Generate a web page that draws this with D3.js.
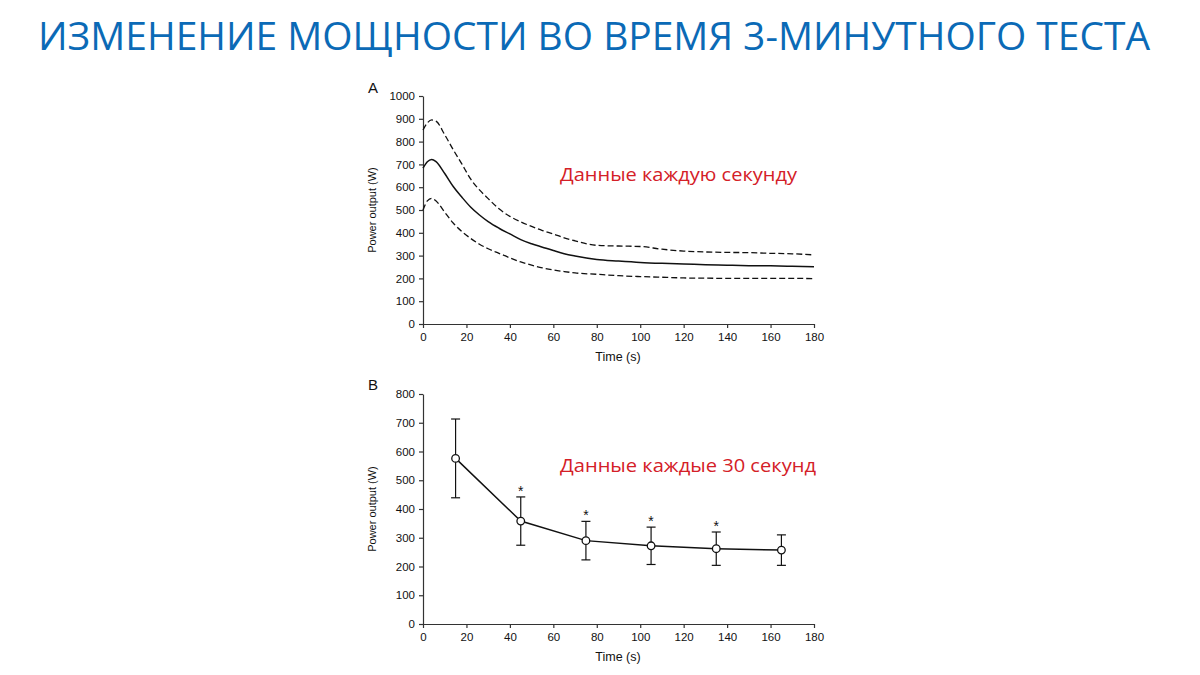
<!DOCTYPE html>
<html><head><meta charset="utf-8">
<script src="https://cdn.jsdelivr.net/npm/d3@7"></script>
<style>body{margin:0;background:#fff;} svg{display:block;}</style>
</head><body>
<svg id="c" width="1200" height="675"></svg>
<script>
// Panel A data (per-second, read at key times)
const timeA  = [0, 2, 4, 6, 10, 14, 18, 22, 26, 30, 35, 40, 45, 50, 55, 60, 65, 70, 80, 90, 100, 110, 120, 130, 140, 150, 160, 170, 180];
const meanA  = [684, 712, 722, 712, 660, 602, 555, 512, 478, 449, 420, 395, 370, 352, 337, 322, 308, 298, 283, 276, 270, 266, 263, 260, 258, 256, 255, 253, 251];
const upperA = [851, 882, 895, 890, 830, 763, 700, 635, 588, 550, 505, 472, 448, 428, 410, 395, 378, 365, 345, 342, 340, 328, 320, 316, 314, 313, 310, 308, 303];
const lowerA = [500, 540, 551, 540, 490, 442, 405, 375, 350, 330, 310, 290, 272, 258, 246, 237, 230, 224, 218, 212, 208, 205, 202, 201, 200, 200, 200, 200, 199];
// Panel B data (30-s means ± SD)
const timeB = [15, 45, 75, 105, 135, 165];
const meanB = [576, 358, 290, 272, 262, 257];
const sdB   = [137, 84, 67, 65, 58, 53];
const sigB  = [false, true, true, true, true, false];
const xTicks = [0, 20, 40, 60, 80, 100, 120, 140, 160, 180];

const svg = d3.select("#c");
const axisFont = "Liberation Sans, Arial, sans-serif";

svg.append("text").attr("x", 594).attr("y", 50).attr("text-anchor", "middle")
  .attr("font-family", "Open Sans, Noto Sans, sans-serif").attr("font-size", 38)
  .attr("fill", "#0b6ab6").attr("textLength", 1112).attr("lengthAdjust", "spacingAndGlyphs")
  .text("ИЗМЕНЕНИЕ МОЩНОСТИ ВО ВРЕМЯ 3-МИНУТНОГО ТЕСТА");

function panel(cfg) {
  const x = d3.scaleLinear().domain([0, 180]).range([423, 814]);
  const y = d3.scaleLinear().domain([0, cfg.ymax]).range([cfg.y0, cfg.y1]);
  const g = svg.append("g");
  const xa = g.append("g").attr("transform", `translate(0,${cfg.y0})`)
    .call(d3.axisBottom(x).tickValues(xTicks).tickFormat(d3.format("d")).tickSize(4).tickSizeOuter(0));
  const ya = g.append("g").attr("transform", `translate(423,0)`)
    .call(d3.axisLeft(y).tickValues(d3.range(0, cfg.ymax + 1, 100)).tickFormat(d3.format("d")).tickSize(4).tickSizeOuter(0));
  [xa, ya].forEach(a => {
    a.selectAll("path,line").attr("stroke", "#333").attr("stroke-width", 1.2);
    a.selectAll("text").attr("font-family", axisFont).attr("font-size", 11.5).attr("fill", "#111");
  });
  xa.selectAll("text").attr("dy", "0.85em");
  ya.selectAll("text").attr("dx", "-1px");
  g.append("text").attr("x", 618).attr("y", cfg.y0 + 37).attr("text-anchor", "middle")
    .attr("font-family", axisFont).attr("font-size", 12.5).attr("fill", "#111").text("Time (s)");
  g.append("text").attr("transform", `translate(376,${(cfg.y0 + cfg.y1) / 2}) rotate(-90)`)
    .attr("text-anchor", "middle").attr("font-family", axisFont).attr("font-size", 11)
    .attr("fill", "#111").text("Power output (W)");
  g.append("text").attr("x", 368).attr("y", cfg.labelY).attr("font-family", axisFont)
    .attr("font-size", 15).attr("fill", "#111").text(cfg.label);
  return {x, y, g};
}

// Panel A
const A = panel({ymax: 1000, y0: 324, y1: 96, label: "A", labelY: 93});
const lineA = (vals) => d3.line().x((d, i) => A.x(timeA[i])).y(d => A.y(d)).curve(d3.curveMonotoneX)(vals);
A.g.append("path").attr("d", lineA(upperA)).attr("fill", "none").attr("stroke", "#111")
  .attr("stroke-width", 1.3).attr("stroke-dasharray", "6,3");
A.g.append("path").attr("d", lineA(lowerA)).attr("fill", "none").attr("stroke", "#111")
  .attr("stroke-width", 1.3).attr("stroke-dasharray", "6,3");
A.g.append("path").attr("d", lineA(meanA)).attr("fill", "none").attr("stroke", "#111")
  .attr("stroke-width", 1.5);
svg.append("text").attr("x", 560).attr("y", 181).attr("font-family", "Open Sans, Noto Sans, sans-serif")
  .attr("font-size", 19).attr("fill", "#d42027").attr("textLength", 237).attr("lengthAdjust", "spacingAndGlyphs")
  .text("Данные каждую секунду");

// Panel B
const B = panel({ymax: 800, y0: 624, y1: 394, label: "B", labelY: 390});
const eb = B.g.append("g").attr("stroke", "#111").attr("stroke-width", 1.2);
timeB.forEach((t, i) => {
  const cx = B.x(t), top = B.y(meanB[i] + sdB[i]), bot = B.y(meanB[i] - sdB[i]);
  eb.append("line").attr("x1", cx).attr("x2", cx).attr("y1", top).attr("y2", bot);
  eb.append("line").attr("x1", cx - 4.5).attr("x2", cx + 4.5).attr("y1", top).attr("y2", top);
  eb.append("line").attr("x1", cx - 4.5).attr("x2", cx + 4.5).attr("y1", bot).attr("y2", bot);
  if (sigB[i]) {
    B.g.append("text").attr("x", cx).attr("y", top - 1).attr("text-anchor", "middle")
      .attr("font-family", axisFont).attr("font-size", 14).attr("fill", "#111").text("*");
  }
});
B.g.append("path").attr("d", d3.line().x((d, i) => B.x(timeB[i])).y(d => B.y(d))(meanB))
  .attr("fill", "none").attr("stroke", "#111").attr("stroke-width", 1.5);
B.g.selectAll("circle.m").data(meanB).join("circle").attr("class", "m")
  .attr("cx", (d, i) => B.x(timeB[i])).attr("cy", d => B.y(d)).attr("r", 3.8)
  .attr("fill", "#fff").attr("stroke", "#111").attr("stroke-width", 1.3);
svg.append("text").attr("x", 560).attr("y", 472).attr("font-family", "Open Sans, Noto Sans, sans-serif")
  .attr("font-size", 19).attr("fill", "#d42027").attr("textLength", 256).attr("lengthAdjust", "spacingAndGlyphs")
  .text("Данные каждые 30 секунд");
</script>
</body></html>
